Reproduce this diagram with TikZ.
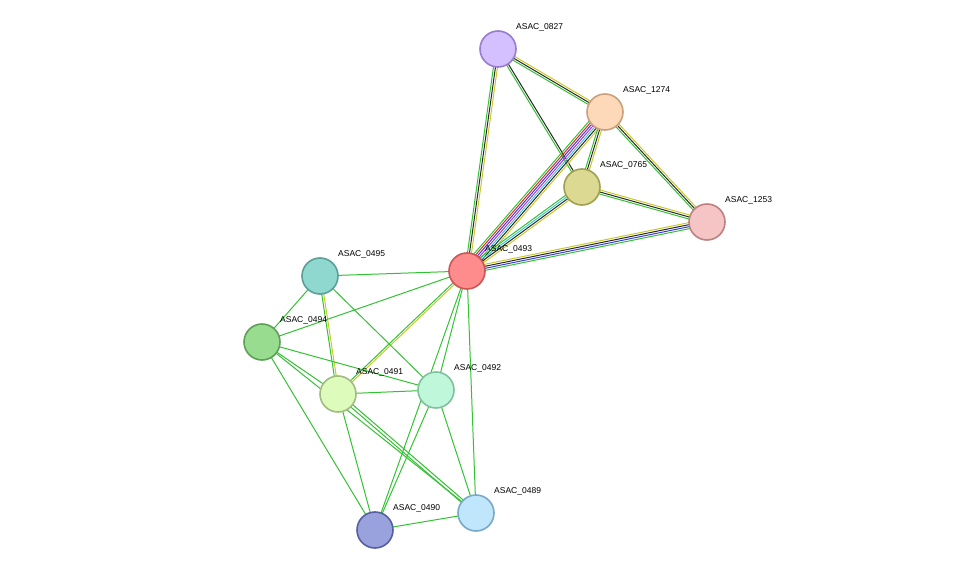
\documentclass[tikz,border=0pt]{standalone}
\usepackage{fontspec}
\setmainfont{Liberation Sans}
\usetikzlibrary{calc}
\definecolor{eg}{RGB}{51,194,51}
\definecolor{ey}{RGB}{200,200,40}
\definecolor{ek}{RGB}{40,40,40}
\definecolor{eb}{RGB}{60,60,220}
\definecolor{er}{RGB}{230,40,40}
\definecolor{ep}{RGB}{180,50,200}
\definecolor{ec}{RGB}{60,200,220}
\newcommand{\bundle}[3]{%
  \foreach \col/\off in {#3}
    \draw[\col,line width=1pt] ($(#1)!\off pt!90:(#2)$) -- ($(#2)!\off pt!-90:(#1)$);}
\begin{document}
\begin{tikzpicture}[x=1pt,y=-1pt]
\tikzstyle{prot}=[draw,circle,line width=1.6pt,minimum size=36pt,inner sep=0pt]
\tikzstyle{lbl}=[anchor=west,inner sep=0pt,font=\fontsize{8.5}{10}\selectfont]
\useasboundingbox (0,0) rectangle (975,575);
\coordinate (p0827) at (498,49);
\coordinate (p1274) at (605,112);
\coordinate (p0765) at (582,187);
\coordinate (p1253) at (707,222);
\coordinate (p0493) at (467,271);
\coordinate (p0495) at (320,276);
\coordinate (p0494) at (262,342);
\coordinate (p0491) at (338,394);
\coordinate (p0492) at (436,390);
\coordinate (p0489) at (476,513);
\coordinate (p0490) at (375,530);
% multi-evidence edges
\bundle{p0827}{p0493}{eg/-2,ek/0,ey/2}
\bundle{p0827}{p1274}{eg/-2,ek/0,ey/2}
\bundle{p0827}{p0765}{eg/-1,ek/1}
\bundle{p1274}{p0493}{eg/-6,er/-4,eb/-2,ep/0,ec/2,ek/4,ey/6}
\bundle{p1274}{p0765}{eg/-2,ek/0,ey/2}
\bundle{p1274}{p1253}{eg/-2,ek/0,ey/2}
\bundle{p0765}{p0493}{eg/-3,ec/-1,ek/1,ey/3}
\bundle{p0765}{p1253}{eg/-2,ek/0,ey/2}
\bundle{p0493}{p1253}{eg/-3,eb/-1,ek/1,ey/3}
\bundle{p0495}{p0491}{eg/-1,ey/1}
\bundle{p0493}{p0491}{eg/-1,ey/1}
\bundle{p0491}{p0489}{eg/-1.5,eg/1.5}
% single edges
\foreach \a/\b in {p0495/p0493,p0495/p0494,p0495/p0492,p0494/p0493,p0494/p0491,
  p0494/p0492,p0494/p0490,p0494/p0489,p0493/p0492,p0493/p0489,p0493/p0490,
  p0491/p0492,p0491/p0490,p0492/p0490,p0492/p0489,p0490/p0489}
  \draw[eg,line width=1pt] (\a) -- (\b);
% proteins
\foreach \n/\f/\d in {0827/{212,191,255}/{150,125,205},1274/{253,217,185}/{200,160,125},
  0765/{220,217,146}/{160,160,80},1253/{245,196,196}/{190,128,128},
  0493/{255,140,140}/{205,85,85},0495/{142,216,208}/{90,160,152},
  0494/{152,220,144}/{95,160,87},0491/{221,252,188}/{160,188,128},
  0492/{191,247,218}/{128,192,156},0489/{191,230,251}/{122,168,200},
  0490/{154,162,222}/{85,96,160}}{
  \definecolor{fc}{RGB}{\f}\definecolor{dc}{RGB}{\d}
  \node[prot,fill=fc,draw=dc] (n\n) at (p\n) {};
  \node[lbl] (l\n) at ($(p\n)+(18,-22)$) {ASAC\_\n};
}
\end{tikzpicture}
\end{document}
